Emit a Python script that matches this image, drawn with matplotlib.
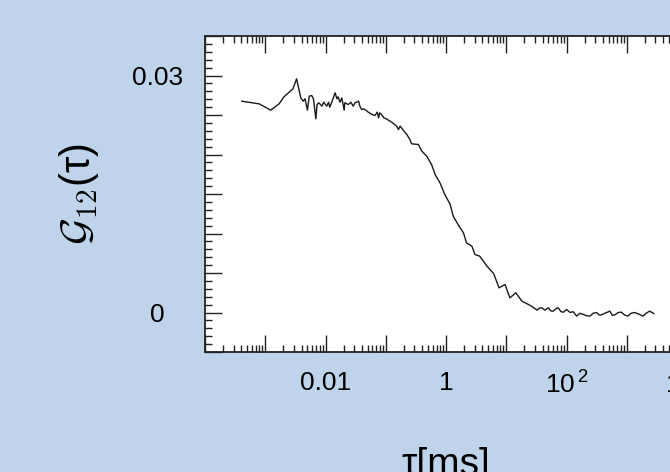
import numpy as np
import matplotlib
matplotlib.use('Agg')
import matplotlib.pyplot as plt
from matplotlib.ticker import MultipleLocator, LogLocator, NullFormatter

plt.rcParams['font.family'] = ['Liberation Sans', 'DejaVu Sans']
plt.rcParams['mathtext.fontset'] = 'custom'
plt.rcParams['mathtext.rm'] = 'Liberation Sans'
plt.rcParams['mathtext.it'] = 'Liberation Sans:italic'

# cross-correlation curve (log10 of tau in ms)
log_tau = [-3.39, -3.10, -2.91, -2.77, -2.69, -2.54, -2.48, -2.41, -2.37, -2.34,
           -2.30, -2.27, -2.23, -2.20, -2.16, -2.14, -2.11, -2.06, -2.03, -1.98,
           -1.95, -1.93, -1.90, -1.84, -1.81, -1.79, -1.76, -1.73, -1.69, -1.68,
           -1.62, -1.58, -1.54, -1.51, -1.45, -1.43, -1.40, -1.37, -1.33, -1.29,
           -1.23, -1.18, -1.14, -1.12, -1.10, -1.07, -1.03, -0.99, -0.90, -0.82,
           -0.79, -0.76, -0.71, -0.65, -0.60, -0.57, -0.46, -0.40, -0.32, -0.24,
           -0.18, -0.10, -0.02, 0.07, 0.12, 0.20, 0.29, 0.34, 0.43, 0.48,
           0.56, 0.68, 0.79, 0.88, 0.98, 1.06, 1.16, 1.26, 1.37, 1.44,
           1.51, 1.55, 1.59, 1.64, 1.70, 1.74, 1.78, 1.82, 1.86, 1.91,
           1.95, 2.00, 2.06, 2.11, 2.17, 2.22, 2.28, 2.33, 2.39, 2.44,
           2.50, 2.54, 2.58, 2.65, 2.72, 2.76, 2.80, 2.86, 2.91, 2.96,
           3.02, 3.07, 3.13, 3.20, 3.27, 3.32, 3.38, 3.45]
g12 = [0.02675, 0.02641, 0.02561, 0.02641, 0.02730, 0.02831, 0.02958, 0.02717, 0.02675, 0.02705,
       0.02561, 0.02738, 0.02747, 0.02705, 0.02451, 0.02633, 0.02654, 0.02612, 0.02662, 0.02612,
       0.02662, 0.02599, 0.02654, 0.02781, 0.02705, 0.02730, 0.02662, 0.02717, 0.02561, 0.02654,
       0.02633, 0.02662, 0.02612, 0.02654, 0.02675, 0.02612, 0.02570, 0.02578, 0.02561, 0.02536,
       0.02506, 0.02494, 0.02536, 0.02464, 0.02527, 0.02506, 0.02464, 0.02451, 0.02409, 0.02359,
       0.02316, 0.02359, 0.02308, 0.02253, 0.02190, 0.02135, 0.02127, 0.02042, 0.01979, 0.01873,
       0.01747, 0.01641, 0.01494, 0.01367, 0.01219, 0.01114, 0.01008, 0.00882, 0.00839, 0.00734,
       0.00713, 0.00586, 0.00494, 0.00312, 0.00354, 0.00186, 0.00249, 0.00143, 0.00101, 0.00070,
       0.00030, 0.00055, 0.00060, 0.00030, 0.00060, 0.00020, 0.00017, 0.00045, 0.00060, 0.00010,
       0.00004, 0.00038, 0.00000, 0.00010, -0.00046, -0.00010, -0.00025, -0.00040, -0.00046, -0.00010,
       0.00000, -0.00030, -0.00030, -0.00005, 0.00017, -0.00035, -0.00030, 0.00000, 0.00004, -0.00030,
       -0.00046, -0.00010, 0.00000, -0.00020, -0.00046, -0.00010, 0.00017, -0.00013]

xtick_vals = [1e-4, 1e-3, 1e-2, 1e-1, 1, 1e1, 1e2, 1e3, 1e4]
xtick_labels = ['', '', '0.01', '', '1', '', r'$10^{\,2}$', '', r'$10^{\,4}$']
ytick_vals = [-0.005, 0, 0.005, 0.01, 0.015, 0.02, 0.025, 0.03, 0.035]
ytick_labels = ['', '0', '', '', '', '', '', '0.03', '']

bg = '#bfd4ea'
fig = plt.figure(figsize=(6.7, 4.72), dpi=100, facecolor=bg)
ax = fig.add_axes([205 / 670, 120 / 472, 482 / 670, 316 / 472])
ax.set_facecolor('white')

tau = 10 ** np.array(log_tau)
ax.plot(tau, g12, color='#1a1a1a', lw=1.0)

ax.set_xscale('log')
ax.set_xlim(1e-4, 1e4)
ax.set_ylim(-0.005, 0.035)

ax.set_xticks(xtick_vals)
ax.set_xticklabels(xtick_labels)
ax.xaxis.set_minor_locator(LogLocator(base=10, subs=np.arange(2, 10), numticks=50))
ax.xaxis.set_minor_formatter(NullFormatter())

ax.set_yticks(ytick_vals)
ax.set_yticklabels(ytick_labels)
ax.yaxis.set_minor_locator(MultipleLocator(0.001))

ax.tick_params(which='both', direction='in', top=True, right=True, width=1.0, color='#222222')
ax.tick_params(which='major', length=12)
ax.tick_params(which='minor', length=5)
ax.tick_params(axis='x', which='major', labelsize=19, pad=14)
ax.tick_params(axis='y', which='major', labelsize=19, pad=34)
for lab in ax.get_yticklabels():
    lab.set_horizontalalignment('center')

for sp in ax.spines.values():
    sp.set_linewidth(1.3)
    sp.set_color('#222222')

ax.set_ylabel(r'$\mathcal{G}_{\mathsf{12}}$(τ)', fontsize=30, math_fontfamily='cm')
ax.yaxis.set_label_coords(-0.215, 0.5)
ax.set_xlabel('τ[ms]', fontsize=28)
ax.xaxis.set_label_coords(0.5, -0.30)

fig.savefig('out.png', dpi=100, facecolor=bg)
